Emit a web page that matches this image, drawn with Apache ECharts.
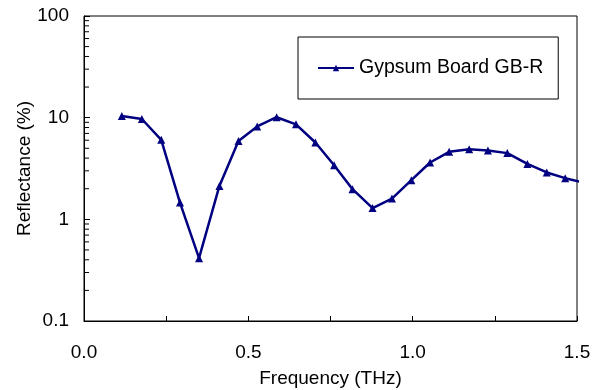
<!DOCTYPE html>
<html>
<head>
<meta charset="utf-8">
<script src="https://cdn.jsdelivr.net/npm/echarts@6/dist/echarts.min.js"></script>
<style>
html,body{margin:0;padding:0;background:#fff;}
#Chart{width:598px;height:390px;}
</style>
</head>
<body>
<div id="Chart"></div>
<script>
// frequency (THz)
var freq = [0.115, 0.176, 0.235, 0.292, 0.350, 0.412, 0.470, 0.527, 0.586, 0.645, 0.704, 0.761,
            0.817, 0.878, 0.937, 0.996, 1.053, 1.111, 1.172, 1.229, 1.288, 1.349, 1.408, 1.464, 1.523]
// reflectance (%)
var refl = [10.4, 9.7, 6.05, 1.46, 0.415, 2.13, 5.9, 8.2, 10.1, 8.6, 5.7, 3.4,
            1.98, 1.29, 1.60, 2.43, 3.62, 4.61, 4.90, 4.75, 4.48, 3.51, 2.89, 2.54, 2.28]
var seriesName = "Gypsum Board GB-R"
var yTicks = ["0.1", "1", "10", "100"]
// minor ticks of the log axis (2..9 in each decade)
var decades = [0.1, 1, 10]
var minorVals = []
decades.forEach(function (d) {
  for (var k = 2; k <= 9; k++) minorVals.push([0, +(d * k).toPrecision(3)])
})

var FONT = "'Liberation Sans', Arial, sans-serif"
var Echarts = echarts.init(document.getElementById("Chart"))
Echarts.setOption({
  animation: false,
  textStyle: { fontFamily: FONT },
  grid: {
    left: 84, right: 21, top: 16, bottom: 69,
    outerBoundsMode: "none",
    show: true, borderColor: "#000", borderWidth: 1
  },
  legend: {
    data: [seriesName],
    left: 298, top: 37,
    padding: [21, 15, 21, 19],
    borderColor: "#000", borderWidth: 1,
    itemWidth: 36, itemHeight: 8, itemGap: 5,
    textStyle: { fontFamily: FONT, fontSize: 19.5, color: "#000" }
  },
  xAxis: {
    type: "value",
    min: 0, max: 1.5, interval: 0.25,
    name: "Frequency (THz)",
    nameLocation: "middle",
    nameGap: 48,
    nameMoveOverlap: false,
    nameTextStyle: { fontFamily: FONT, fontSize: 19, color: "#000" },
    splitLine: { show: false },
    axisLine: { lineStyle: { color: "#000", width: 1 } },
    axisTick: { inside: true, length: 5, lineStyle: { color: "#000" } },
    axisLabel: {
      margin: 22,
      fontFamily: FONT, fontSize: 19, color: "#000",
      formatter: function (v) {
        return Math.abs(v * 2 - Math.round(v * 2)) < 1e-6 ? v.toFixed(1) : ""
      }
    }
  },
  yAxis: {
    type: "log", logBase: 10,
    min: 0.1, max: 100,
    name: "Reflectance (%)",
    nameLocation: "middle",
    nameGap: 50,
    nameMoveOverlap: false,
    nameTextStyle: { fontFamily: FONT, fontSize: 19, color: "#000" },
    splitLine: { show: false },
    axisLine: { lineStyle: { color: "#000", width: 1 } },
    axisTick: { inside: true, length: 6, lineStyle: { color: "#000" } },
    axisLabel: {
      margin: 15,
      fontFamily: FONT, fontSize: 19, color: "#000",
      formatter: function (v) {
        var s = String(+v.toPrecision(3))
        return yTicks.indexOf(s) >= 0 ? s : ""
      }
    }
  },
  series: [
    {
      type: "custom",
      silent: true,
      data: minorVals,
      renderItem: function (params, api) {
        var p = api.coord([api.value(0), api.value(1)])
        return {
          type: "line",
          shape: { x1: p[0], y1: p[1], x2: p[0] + 5, y2: p[1] },
          style: { stroke: "#000", lineWidth: 1 }
        }
      }
    },
    {
      name: seriesName,
      type: "line",
      clip: true,
      data: freq.map(function (f, i) { return [f, refl[i]] }),
      symbol: "triangle",
      symbolSize: 8,
      itemStyle: { color: "#000080" },
      lineStyle: { color: "#000080", width: 2.5 }
    }
  ]
})
</script>
</body>
</html>
